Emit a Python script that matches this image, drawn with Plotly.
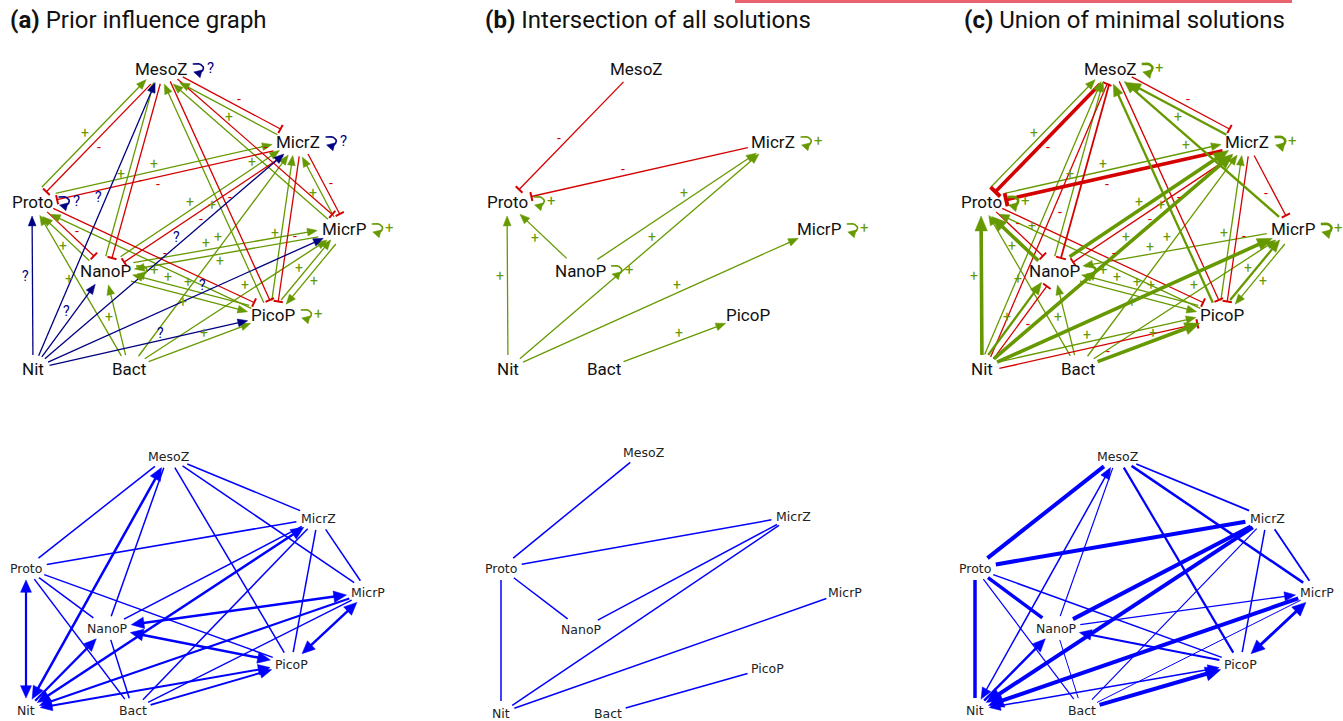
import math
import plotly.graph_objects as go

W, H = 1343, 721

# ---------------- data ----------------
NODES = ["MesoZ", "MicrZ", "Proto", "MicrP", "NanoP", "PicoP", "Nit", "Bact"]

# layout of the influence graphs (top row), panel (a) coordinates
TOP_X = [161, 298, 32, 344, 105, 273, 33, 129]
TOP_Y = [69, 142, 202, 229, 271, 315, 369, 369]
TOP_DX = [0, 475, 949]

# layout of the interaction graphs (bottom row)
BOT_X = [168, 318, 26, 368, 107, 291, 26, 133]
BOT_Y = [456, 518, 568, 592, 628, 664, 710, 710]
BOT_B_X = [643, 793, 501, 845, 581, 767, 501, 608]
BOT_B_Y = [452, 516, 568, 592, 629, 668, 713, 713]
BOT_C_DX = 949

TITLE_TAGS = ["(a)", "(b)", "(c)"]
TITLE_TEXTS = ["Prior influence graph", "Intersection of all solutions", "Union of minimal solutions"]

# (source, target, sign, weight)
EDGES_A = [
    ("Proto", "MesoZ", "+", 1), ("MesoZ", "Proto", "-", 1),
    ("Nit", "MesoZ", "?", 1),
    ("NanoP", "MesoZ", "+", 1), ("MesoZ", "NanoP", "-", 1),
    ("PicoP", "MesoZ", "+", 1), ("MesoZ", "PicoP", "-", 1),
    ("MicrZ", "MesoZ", "+", 1), ("MesoZ", "MicrZ", "-", 1),
    ("MicrP", "MesoZ", "+", 1), ("MesoZ", "MicrP", "-", 1),
    ("Proto", "MicrZ", "+", 1), ("MicrZ", "Proto", "-", 1),
    ("NanoP", "MicrZ", "+", 1), ("MicrZ", "NanoP", "-", 1),
    ("Nit", "MicrZ", "?", 1), ("Bact", "MicrZ", "+", 1),
    ("PicoP", "MicrZ", "+", 1), ("MicrZ", "PicoP", "-", 1),
    ("MicrP", "MicrZ", "+", 1), ("MicrZ", "MicrP", "-", 1),
    ("Nit", "Proto", "?", 1),
    ("NanoP", "Proto", "+", 1), ("Proto", "NanoP", "-", 1),
    ("PicoP", "Proto", "+", 1), ("Proto", "PicoP", "-", 1),
    ("Bact", "Proto", "+", 1),
    ("NanoP", "MicrP", "+", 1), ("MicrP", "NanoP", "+", 1),
    ("Nit", "MicrP", "?", 1), ("Bact", "MicrP", "+", 1),
    ("PicoP", "MicrP", "+", 1), ("MicrP", "PicoP", "+", 1),
    ("Nit", "NanoP", "?", 1), ("Bact", "NanoP", "+", 1),
    ("NanoP", "PicoP", "+", 1), ("PicoP", "NanoP", "+", 1),
    ("Nit", "PicoP", "?", 1), ("Bact", "PicoP", "+", 1),
]
LOOPS_A = [("MesoZ", "?"), ("MicrZ", "?"), ("Proto", "?"), ("MicrP", "+"), ("NanoP", "+"), ("PicoP", "+")]

EDGES_B = [
    ("MesoZ", "Proto", "-", 1), ("MicrZ", "Proto", "-", 1),
    ("NanoP", "Proto", "+", 1), ("Nit", "Proto", "+", 1),
    ("NanoP", "MicrZ", "+", 1), ("Nit", "MicrZ", "+", 1),
    ("Nit", "MicrP", "+", 1), ("Bact", "PicoP", "+", 1),
]
LOOPS_B = [("Proto", "+"), ("MicrZ", "+"), ("MicrP", "+"), ("NanoP", "+")]

EDGES_C = [
    ("Proto", "MesoZ", "+", 1), ("MesoZ", "Proto", "-", 3),
    ("Nit", "MesoZ", "+", 1), ("Nit", "MesoZ", "-", 1),
    ("NanoP", "MesoZ", "+", 1), ("MesoZ", "NanoP", "-", 1.5),
    ("PicoP", "MesoZ", "+", 2), ("MesoZ", "PicoP", "-", 1),
    ("MicrZ", "MesoZ", "+", 2), ("MesoZ", "MicrZ", "-", 1),
    ("MicrP", "MesoZ", "+", 2),
    ("Proto", "MicrZ", "+", 1), ("MicrZ", "Proto", "-", 3),
    ("NanoP", "MicrZ", "+", 3), ("MicrZ", "NanoP", "-", 1),
    ("Nit", "MicrZ", "+", 3), ("Bact", "MicrZ", "+", 1),
    ("PicoP", "MicrZ", "+", 1), ("MicrZ", "PicoP", "-", 1),
    ("MicrZ", "MicrP", "-", 1),
    ("Nit", "Proto", "+", 3),
    ("NanoP", "Proto", "+", 3), ("Proto", "NanoP", "-", 1),
    ("PicoP", "Proto", "+", 1), ("Proto", "PicoP", "-", 1),
    ("Bact", "Proto", "+", 1),
    ("MicrP", "NanoP", "+", 1),
    ("Nit", "MicrP", "+", 3), ("Bact", "MicrP", "+", 1),
    ("PicoP", "MicrP", "+", 2), ("MicrP", "PicoP", "+", 1),
    ("Nit", "NanoP", "+", 2), ("Nit", "NanoP", "-", 1), ("Bact", "NanoP", "+", 1),
    ("NanoP", "PicoP", "+", 1), ("PicoP", "NanoP", "+", 1),
    ("Nit", "PicoP", "+", 1), ("Nit", "PicoP", "-", 1), ("Bact", "PicoP", "+", 3),
]
LOOPS_C = [("MesoZ", "+"), ("MicrZ", "+"), ("Proto", "+"), ("MicrP", "+"), ("NanoP", "+")]

# (node a, node b, arrow at a, arrow at b, width)
BOT_EDGES_A = [
    ("MesoZ", "Proto", 0, 0, 1.5), ("MesoZ", "Nit", 1, 1, 2.5),
    ("MesoZ", "NanoP", 0, 0, 1.5), ("MesoZ", "PicoP", 0, 0, 1.5),
    ("MesoZ", "MicrZ", 0, 0, 1.5), ("MesoZ", "MicrP", 0, 0, 1.5),
    ("Proto", "MicrZ", 0, 0, 1.5), ("Proto", "NanoP", 0, 0, 1.5),
    ("Proto", "PicoP", 0, 0, 1.5), ("Proto", "Bact", 0, 0, 1.5),
    ("Proto", "Nit", 1, 1, 2.2),
    ("MicrZ", "NanoP", 0, 0, 1.5), ("MicrZ", "Nit", 1, 1, 2.5),
    ("MicrZ", "Bact", 0, 0, 1.5), ("MicrZ", "PicoP", 0, 0, 1.5),
    ("MicrZ", "MicrP", 0, 0, 1.5),
    ("MicrP", "NanoP", 1, 1, 2.5), ("MicrP", "Nit", 0, 1, 2.0),
    ("MicrP", "Bact", 0, 0, 1.5), ("MicrP", "PicoP", 1, 1, 2.5),
    ("Nit", "NanoP", 0, 1, 2.2), ("NanoP", "PicoP", 1, 1, 2.5),
    ("NanoP", "Bact", 0, 0, 1.5), ("Bact", "PicoP", 0, 1, 2.0),
    ("Nit", "PicoP", 1, 1, 2.0),
]
BOT_EDGES_B = [
    ("MesoZ", "Proto", 0, 0, 1.5), ("Proto", "MicrZ", 0, 0, 1.5),
    ("Proto", "NanoP", 0, 0, 1.5), ("Proto", "Nit", 0, 0, 1.5),
    ("NanoP", "MicrZ", 0, 0, 1.5), ("Nit", "MicrZ", 0, 0, 1.5),
    ("Nit", "MicrP", 0, 0, 1.5), ("Bact", "PicoP", 0, 0, 1.5),
]
BOT_EDGES_C = [
    ("MesoZ", "Proto", 0, 0, 4.0), ("MesoZ", "Nit", 1, 1, 1.5),
    ("MesoZ", "NanoP", 0, 0, 1.2), ("MesoZ", "PicoP", 0, 0, 2.2),
    ("MesoZ", "MicrZ", 0, 0, 1.8), ("MesoZ", "MicrP", 0, 0, 2.5),
    ("Proto", "MicrZ", 0, 0, 4.0), ("Proto", "NanoP", 0, 0, 3.5),
    ("Proto", "PicoP", 0, 0, 1.5), ("Proto", "Bact", 0, 0, 1.2),
    ("Proto", "Nit", 0, 0, 3.5),
    ("MicrZ", "NanoP", 0, 0, 4.0), ("MicrZ", "Nit", 0, 1, 4.0),
    ("MicrZ", "Bact", 0, 0, 1.2), ("MicrZ", "PicoP", 0, 0, 1.5),
    ("MicrZ", "MicrP", 0, 0, 1.8),
    ("NanoP", "MicrP", 0, 1, 1.3), ("MicrP", "Nit", 0, 1, 4.0),
    ("MicrP", "Bact", 0, 0, 1.0), ("MicrP", "PicoP", 1, 1, 3.0),
    ("Nit", "NanoP", 0, 1, 2.5), ("PicoP", "NanoP", 0, 1, 2.0),
    ("NanoP", "Bact", 0, 0, 1.0), ("Bact", "PicoP", 0, 1, 4.0),
    ("Nit", "PicoP", 1, 1, 1.5),
]

# ---------------- styles ----------------
GREEN = "#669900"
RED = "#d40000"
NAVY = "#000080"
BLUE = "#0000ff"
SIGN_COLOR = {"+": GREEN, "-": RED, "?": NAVY}
WIDTH_PX = {1: 1.3, 1.5: 1.8, 2: 2.3, 3: 3.6}
TOP_FONT = 17
BOT_FONT = 12.5

ROBOTO_W = {"M": .87, "e": .53, "s": .52, "o": .57, "Z": .60, "i": .24, "c": .52, "r": .34,
            "P": .63, "N": .71, "a": .54, "n": .55, "t": .33, "B": .62}
DEJAVU_W = {"M": .863, "e": .615, "s": .521, "o": .612, "Z": .685, "i": .278, "c": .55, "r": .411,
            "P": .603, "N": .748, "a": .613, "n": .634, "t": .392, "B": .686}


def text_w(name, table, size):
    return sum(table.get(ch, .55) for ch in name) * size


line_groups = {}
head_groups = {}
annotations = []


def add_seg(color, width, p, q):
    g = line_groups.setdefault((color, width), ([], []))
    g[0].extend([p[0], q[0], None])
    g[1].extend([p[1], q[1], None])


def add_path(color, width, pts):
    g = line_groups.setdefault((color, width), ([], []))
    for x, y in pts:
        g[0].append(x)
        g[1].append(y)
    g[0].append(None)
    g[1].append(None)


def add_poly(color, pts):
    g = head_groups.setdefault(color, ([], []))
    for x, y in pts + [pts[0]]:
        g[0].append(x)
        g[1].append(y)
    g[0].append(None)
    g[1].append(None)


def arrow_head(color, tip, d, length, half):
    bx, by = tip[0] - d[0] * length, tip[1] - d[1] * length
    n = (-d[1], d[0])
    add_poly(color, [tip, (bx + n[0] * half, by + n[1] * half), (bx - n[0] * half, by - n[1] * half)])
    return (tip[0] - d[0] * length * 0.8, tip[1] - d[1] * length * 0.8)


def ell_r(dx, dy, a, b):
    return 1.0 / math.sqrt((dx / a) ** 2 + (dy / b) ** 2)


def label(x, y, text, size, color, family="Roboto", xanchor="center"):
    annotations.append(dict(x=x, y=y, xref="x", yref="y", text=text, showarrow=False,
                            font=dict(family=family, size=size, color=color),
                            xanchor=xanchor, yanchor="middle"))


def draw_top(edges, loops, dx, bold_loops):
    pos = {n: (TOP_X[i] + dx, TOP_Y[i]) for i, n in enumerate(NODES)}
    half = {n: text_w(n, ROBOTO_W, 16) / 2 for n in NODES}
    placed = []
    for n, sign in loops:
        placed.append((pos[n][0] + half[n] + 25, pos[n][1] - 1))
    groups = {}
    for e in edges:
        key = tuple(sorted((e[0], e[1]), key=NODES.index))
        groups.setdefault(key, []).append(e)
    for key, es in groups.items():
        a_n, b_n = key
        pa, pb = pos[a_n], pos[b_n]
        L = math.hypot(pb[0] - pa[0], pb[1] - pa[1])
        cd = ((pb[0] - pa[0]) / L, (pb[1] - pa[1]) / L)
        cn = (cd[1], -cd[0])
        k = len(es)
        for i, (s, t, sign, w) in enumerate(es):
            off = (i - (k - 1) / 2) * 6.5
            ps, pt = pos[s], pos[t]
            d = ((pt[0] - ps[0]) / L, (pt[1] - ps[1]) / L)
            rs = ell_r(d[0], d[1], half[s] + 7, 14)
            rt = ell_r(d[0], d[1], half[t] + 7, 14)
            st = (ps[0] + d[0] * rs + cn[0] * off, ps[1] + d[1] * rs + cn[1] * off)
            tip = (pt[0] - d[0] * rt + cn[0] * off, pt[1] - d[1] * rt + cn[1] * off)
            color = SIGN_COLOR[sign]
            wpx = WIDTH_PX[w]
            if sign == "-":
                add_seg(color, wpx, st, tip)
                n = (-d[1], d[0])
                bh = 3.5 + wpx * 0.9
                add_seg(color, max(2.0, wpx * 1.1),
                        (tip[0] + n[0] * bh, tip[1] + n[1] * bh),
                        (tip[0] - n[0] * bh, tip[1] - n[1] * bh))
            else:
                base = arrow_head(color, tip, d, 7 + 2.2 * wpx, 2.6 + 1.0 * wpx)
                add_seg(color, wpx, st, base)
            side = 1 if off > 0 else -1
            loff = off + side * 7
            if k == 1:
                tt = 0.57
            else:
                tt = 0.5 + (0.04 if i % 2 else -0.04)
            tries = [0, 0.06, -0.06, 0.12, -0.12, 0.18, -0.18, 0.24, -0.24, 0.3]
            for dt in tries:
                u = min(0.85, max(0.15, tt + dt))
                mx = st[0] + (tip[0] - st[0]) * u + cn[0] * (loff - off)
                my = st[1] + (tip[1] - st[1]) * u + cn[1] * (loff - off)
                if all(abs(mx - px) > 12 or abs(my - py) > 14 for px, py in placed):
                    break
            placed.append((mx, my))
            label(mx, my, sign, 14, color)
    for n, sign in loops:
        cx, cy = pos[n]
        color = SIGN_COLOR[sign]
        x0 = cx + half[n] + 7
        p0, p1, p2, p3 = (x0, cy - 5), (x0 + 14, cy - 8), (x0 + 14, cy + 6), (x0 + 2, cy + 3)
        pts = []
        for j in range(13):
            u = j / 12
            bx = (1 - u) ** 3 * p0[0] + 3 * (1 - u) ** 2 * u * p1[0] + 3 * (1 - u) * u ** 2 * p2[0] + u ** 3 * p3[0]
            by = (1 - u) ** 3 * p0[1] + 3 * (1 - u) ** 2 * u * p1[1] + 3 * (1 - u) * u ** 2 * p2[1] + u ** 3 * p3[1]
            pts.append((bx, by))
        lw = 2.6 if bold_loops else 1.6
        ex, ey = p3[0] - p2[0], p3[1] - p2[1]
        el = math.hypot(ex, ey)
        d = (ex / el, ey / el)
        arrow_head(color, (p3[0] - 1, p3[1]), d, 6 + lw, 3 + lw * 0.6)
        add_path(color, lw, pts[:-2])
        label(x0 + 18, cy - 1, sign, 15, color)
    for n in NODES:
        label(pos[n][0], pos[n][1], n, TOP_FONT, "#111111")


def draw_bottom(edges, xs, ys):
    pos = {n: (xs[i], ys[i]) for i, n in enumerate(NODES)}
    half = {n: text_w(n, DEJAVU_W, 12) / 2 for n in NODES}
    for a_n, b_n, ha, hb, w in edges:
        pa, pb = pos[a_n], pos[b_n]
        L = math.hypot(pb[0] - pa[0], pb[1] - pa[1])
        d = ((pb[0] - pa[0]) / L, (pb[1] - pa[1]) / L)
        ra = ell_r(d[0], d[1], half[a_n] + 6, 12)
        rb = ell_r(d[0], d[1], half[b_n] + 6, 12)
        p = (pa[0] + d[0] * ra, pa[1] + d[1] * ra)
        q = (pb[0] - d[0] * rb, pb[1] - d[1] * rb)
        hl, hh = 9 + 1.5 * w, 3.5 + 0.9 * w
        if ha:
            p = arrow_head(BLUE, p, (-d[0], -d[1]), hl, hh)
        if hb:
            q = arrow_head(BLUE, q, d, hl, hh)
        add_seg(BLUE, w, p, q)
    for n in NODES:
        label(pos[n][0], pos[n][1], n, BOT_FONT, "#222222", family="DejaVu Sans")


draw_top(EDGES_A, LOOPS_A, TOP_DX[0], False)
draw_top(EDGES_B, LOOPS_B, TOP_DX[1], False)
draw_top(EDGES_C, LOOPS_C, TOP_DX[2], True)
draw_bottom(BOT_EDGES_A, BOT_X, BOT_Y)
draw_bottom(BOT_EDGES_B, BOT_B_X, BOT_B_Y)
draw_bottom(BOT_EDGES_C, [x + BOT_C_DX for x in BOT_X], BOT_Y)

TITLE_X = [8, 483, 962]
for tag, txt, tx in zip(TITLE_TAGS, TITLE_TEXTS, TITLE_X):
    annotations.append(dict(x=tx, y=20, xref="x", yref="y", text="<b>" + tag + "</b> " + txt,
                            showarrow=False, xanchor="left", yanchor="middle",
                            font=dict(family="Roboto", size=24, color="#111111")))

fig = go.Figure()
for (color, width), (xs, ys) in line_groups.items():
    fig.add_trace(go.Scatter(x=xs, y=ys, mode="lines", line=dict(color=color, width=width),
                             hoverinfo="skip", showlegend=False))
for color, (xs, ys) in head_groups.items():
    fig.add_trace(go.Scatter(x=xs, y=ys, mode="lines", fill="toself", fillcolor=color,
                             line=dict(color=color, width=0.5), hoverinfo="skip", showlegend=False))

fig.update_layout(
    width=W, height=H, margin=dict(l=0, r=0, t=0, b=0),
    paper_bgcolor="white", plot_bgcolor="white",
    xaxis=dict(range=[0, W], visible=False, fixedrange=True),
    yaxis=dict(range=[H, 0], visible=False, fixedrange=True),
    annotations=annotations,
    shapes=[dict(type="rect", xref="x", yref="y", x0=735, x1=1292, y0=0, y1=3,
                 fillcolor="#e8636e", line=dict(width=0))],
)

fig.write_html("out.html", config={"displayModeBar": False},
               post_script="document.body.style.margin='0';document.body.style.overflow='hidden';")
